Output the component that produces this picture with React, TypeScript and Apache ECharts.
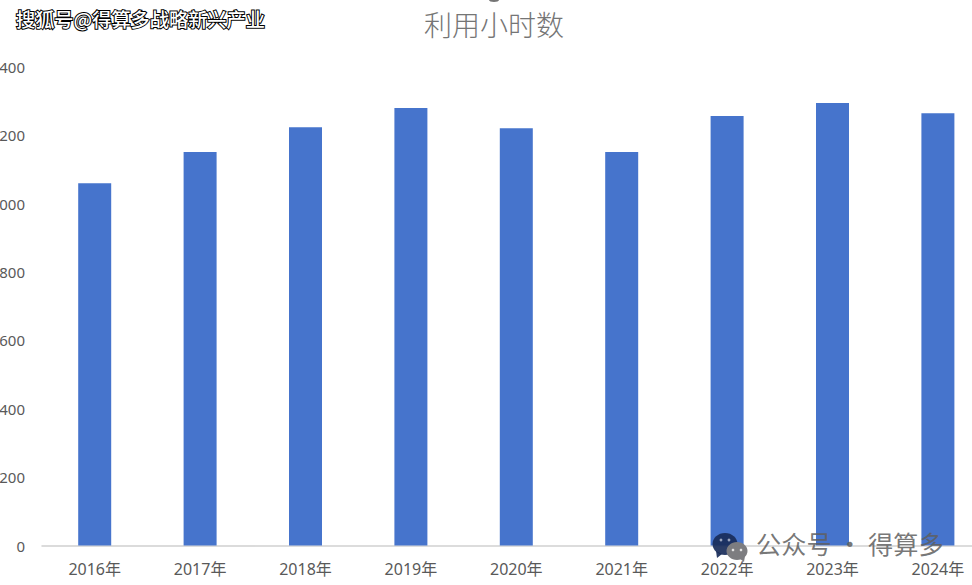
import { useEffect, useRef } from "react";
import * as echarts from "echarts";

const categories = ["2016年", "2017年", "2018年", "2019年", "2020年", "2021年", "2022年", "2023年", "2024年"];
const hours = [1060, 1151, 1224, 1280, 1221, 1151, 1257, 1295, 1265];

const FONT = '"Noto Sans", "Noto Sans CJK SC", sans-serif';
const CJK = '"Noto Sans CJK SC", sans-serif';
const LABEL = "#595959";

const App = () => {
  const chartRef = useRef<HTMLDivElement>(null);

  useEffect(() => {
    if (!chartRef.current) return;
    const chart = echarts.init(chartRef.current, undefined, { renderer: "svg" });

    chart.setOption({
      animation: false,
      backgroundColor: "#ffffff",
      title: {
        text: "利用小时数",
        left: 489,
        top: 5,
        textAlign: "center",
        textStyle: { fontFamily: CJK, fontSize: 28, fontWeight: 300, color: "#757575" },
      },
      // the picture is cropped: plot runs past the right edge, labels past the left
      grid: { left: 42, top: 67, width: 948.6, height: 478.5, outerBoundsMode: "none" },
      xAxis: {
        type: "category",
        data: categories,
        axisTick: { show: false },
        axisLine: { lineStyle: { color: "#d0d0d0", width: 1.5 } },
        axisLabel: { color: LABEL, fontSize: 16, fontFamily: FONT, margin: 15, hideOverlap: false },
      },
      yAxis: {
        type: "value",
        min: 0,
        max: 1400,
        interval: 200,
        axisLine: { show: false },
        axisTick: { show: false },
        splitLine: { show: false },
        axisLabel: {
          color: LABEL,
          fontSize: 15,
          fontFamily: FONT,
          margin: 17,
          formatter: (v: number) => String(v),
        },
      },
      series: [
        {
          type: "bar",
          data: hours,
          barWidth: 33,
          itemStyle: { color: "#4674cc" },
        },
      ],
      graphic: [
        // tail of a cropped line above the title
        { type: "ellipse", shape: { cx: 494, cy: 0, rx: 5, ry: 2 }, style: { fill: "#757575" } },
        {
          type: "text",
          left: 15,
          top: 8,
          style: {
            text: "搜狐号@得算多战略新兴产业",
            fontFamily: CJK,
            fontSize: 19.2,
            fontWeight: 500,
            fill: "#ffffff",
            stroke: "#000000",
            lineWidth: 2,
          },
        },
        {
          type: "text",
          left: 756,
          top: 530,
          z: 10,
          style: {
            text: "公众号 · 得算多",
            fontFamily: CJK,
            fontSize: 25.2,
            fill: "rgba(95,95,95,0.85)",
          },
        },
        // wechat icon
        { type: "ellipse", z: 10, shape: { cx: 725, cy: 544, rx: 12.5, ry: 11 }, style: { fill: "rgba(25,45,90,0.92)" } },
        { type: "polygon", z: 10, shape: { points: [[716, 551], [722, 554], [717, 558]] }, style: { fill: "rgba(25,45,90,0.92)" } },
        { type: "ellipse", z: 11, shape: { cx: 737, cy: 551, rx: 10.5, ry: 9 }, style: { fill: "#7d7d80" } },
        { type: "polygon", z: 11, shape: { points: [[739, 558], [745, 556], [744, 562]] }, style: { fill: "#7d7d80" } },
        { type: "circle", z: 12, shape: { cx: 721, cy: 540, r: 1.4 }, style: { fill: "#9aa4bd" } },
        { type: "circle", z: 12, shape: { cx: 729, cy: 540, r: 1.4 }, style: { fill: "#9aa4bd" } },
        { type: "circle", z: 12, shape: { cx: 733, cy: 550, r: 1.3 }, style: { fill: "#e4e4e4" } },
        { type: "circle", z: 12, shape: { cx: 741, cy: 550, r: 1.3 }, style: { fill: "#e4e4e4" } },
      ],
    });

    return () => chart.dispose();
  }, []);

  return (
    <div
      ref={chartRef}
      style={{ position: "absolute", left: 0, top: 0, width: 972, height: 585 }}
    />
  );
};

export default App;
